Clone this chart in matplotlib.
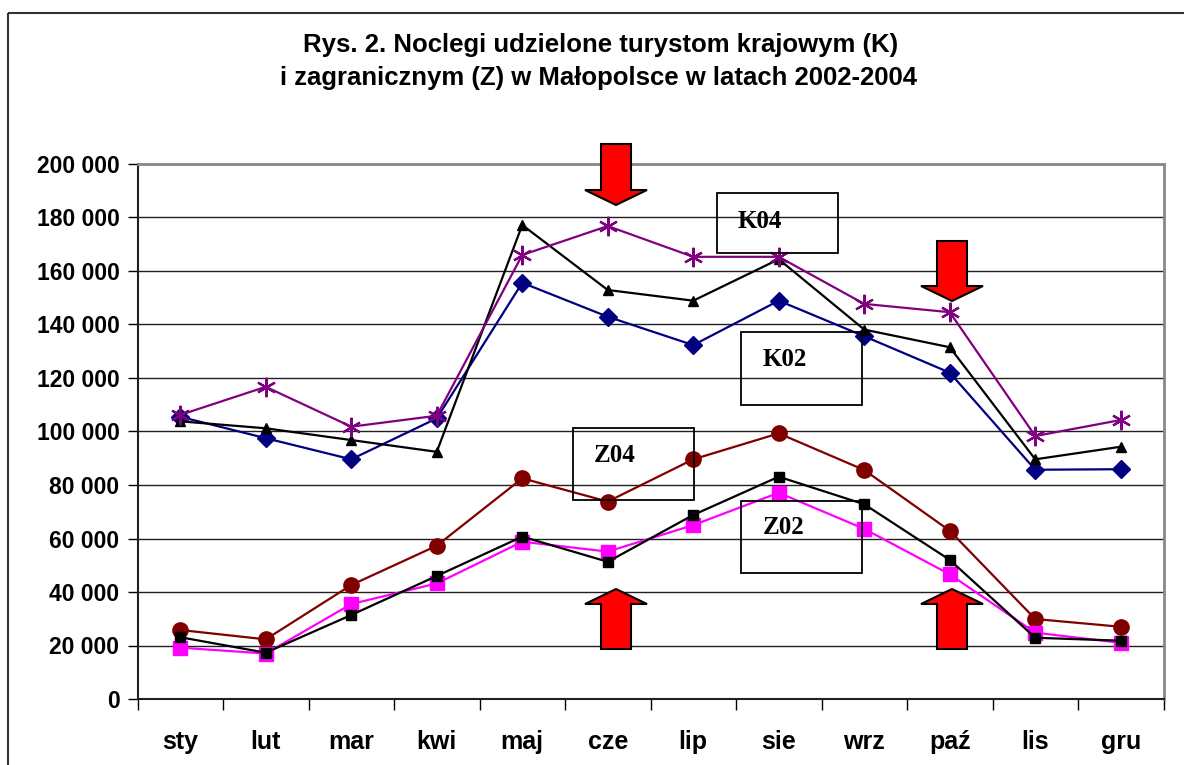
import numpy as np
import matplotlib
matplotlib.use("Agg")
import matplotlib.pyplot as plt
from matplotlib.patches import Polygon, Rectangle
from matplotlib.transforms import Affine2D

# dane
months = ["sty", "lut", "mar", "kwi", "maj", "cze", "lip", "sie", "wrz", "paź", "lis", "gru"]
k02 = [105500, 97500, 89600, 104900, 155600, 142900, 132300, 148900, 135600, 122000, 85700, 85900]
k03 = [103800, 101200, 96800, 92400, 177200, 152900, 148900, 164400, 138100, 131500, 89600, 94300]
k04 = [106200, 116700, 101800, 105900, 166000, 176800, 165300, 165300, 147700, 144600, 98300, 104300]
z02 = [19200, 17000, 35500, 43200, 58800, 55100, 65000, 77100, 63600, 46600, 24800, 21000]
z03 = [23100, 17300, 31400, 46000, 60700, 51300, 68800, 83100, 72800, 52000, 22900, 21800]
z04 = [25800, 22300, 42600, 57300, 82500, 73800, 89600, 99300, 85600, 62900, 29900, 27000]
yticks = np.arange(0, 200001, 20000)

W, H = 1184, 765
plt.rcParams['font.family'] = ['Liberation Sans', 'DejaVu Sans']
fig = plt.figure(figsize=(W / 100, H / 100), dpi=100)
ax = fig.add_axes([137.5 / W, 1 - 699 / H, (1163.5 - 137.5) / W, (699 - 164) / H])

x = np.arange(len(months))
ax.plot(x, k02, color='#000080', lw=1.6, marker='D', ms=9, zorder=3)
ax.plot(x, k03, color='black', lw=1.6, marker='^', ms=7.5, zorder=3)
ax.plot(x, k04, color='#800080', lw=1.6, marker=(6, 2, 0), ms=14, mew=1.6, zorder=3)
ax.plot(x, z04, color='#800000', lw=1.6, marker='o', ms=11, zorder=3)
ax.plot(x, z02, color='#FF00FF', lw=1.6, marker='s', ms=10.5, zorder=3)
ax.plot(x, z03, color='black', lw=1.6, marker='s', ms=7, zorder=3)

ax.set_xlim(-0.5, 11.5)
ax.set_ylim(0, 200000)
ax.set_yticks(yticks)
ax.set_yticklabels([f"{v:,}".replace(",", " ") for v in yticks], fontsize=16.5, fontweight='bold')
ax.set_xticks(x)
ax.set_xticklabels(months, fontsize=18, fontweight='bold')
ax.set_xticks(np.arange(-0.5, 12, 1), minor=True)
ax.tick_params(axis='x', which='major', length=0, pad=22)
ax.tick_params(axis='x', which='minor', length=8, width=1, color='black')
ax.tick_params(axis='y', length=7, width=1, pad=6)
ax.grid(axis='y', color='#202020', lw=1)
ax.set_axisbelow(True)
for s in ['left', 'bottom']:
    ax.spines[s].set_linewidth(1.5)
    ax.spines[s].set_color('#202020')
for s in ['top', 'right']:
    ax.spines[s].set_linewidth(2)
    ax.spines[s].set_color('#888888')

# tytul
fig.text(601 / W, 1 - 45 / H, "Rys. 2. Noclegi udzielone turystom krajowym (K)",
         ha='center', va='center', fontsize=18.5, fontweight='bold')
fig.text(599 / W, 1 - 78 / H, "i zagranicznym (Z) w Małopolsce w latach 2002-2004",
         ha='center', va='center', fontsize=18.5, fontweight='bold')

# piksele -> figura
px = Affine2D().scale(1 / W, -1 / H).translate(0, 1) + fig.transFigure

# ramka calego wykresu
fig.patches.append(Rectangle((8, 13), W + 10, H + 10, fill=False, ec='#333333', lw=1.5, transform=px))

# etykiety w ramkach
boxes = [("K04", 717, 193, 838, 253, 760, 221),
         ("K02", 741, 332, 862, 405, 785, 360),
         ("Z04", 573, 428, 694, 500, 615, 456),
         ("Z02", 741, 501, 862, 573, 784, 527)]
for lab, x0, y0, x1, y1, tx, ty in boxes:
    fig.patches.append(Rectangle((x0, y0), x1 - x0, y1 - y0, fill=False, ec='black', lw=1.3,
                                 transform=px, zorder=4))
    fig.text(tx / W, 1 - ty / H, lab, ha='center', va='center', fontsize=18, fontweight='bold',
             family='Liberation Serif', zorder=5)

# strzalki
def arrow_down(cx, top, base, tip):
    pts = [(cx - 15, top), (cx + 15, top), (cx + 15, base), (cx + 31, base),
           (cx, tip), (cx - 31, base), (cx - 15, base)]
    fig.patches.append(Polygon(pts, closed=True, fc='red', ec='black', lw=1.5, transform=px, zorder=6))

def arrow_up(cx, bottom, base, tip):
    pts = [(cx - 15, bottom), (cx + 15, bottom), (cx + 15, base), (cx + 31, base),
           (cx, tip), (cx - 31, base), (cx - 15, base)]
    fig.patches.append(Polygon(pts, closed=True, fc='red', ec='black', lw=1.5, transform=px, zorder=6))

arrow_down(616, 144, 190, 205)
arrow_down(952, 241, 286, 301)
arrow_up(616, 649, 604, 589)
arrow_up(952, 649, 604, 589)

fig.savefig("out.png", dpi=100, facecolor='white')
